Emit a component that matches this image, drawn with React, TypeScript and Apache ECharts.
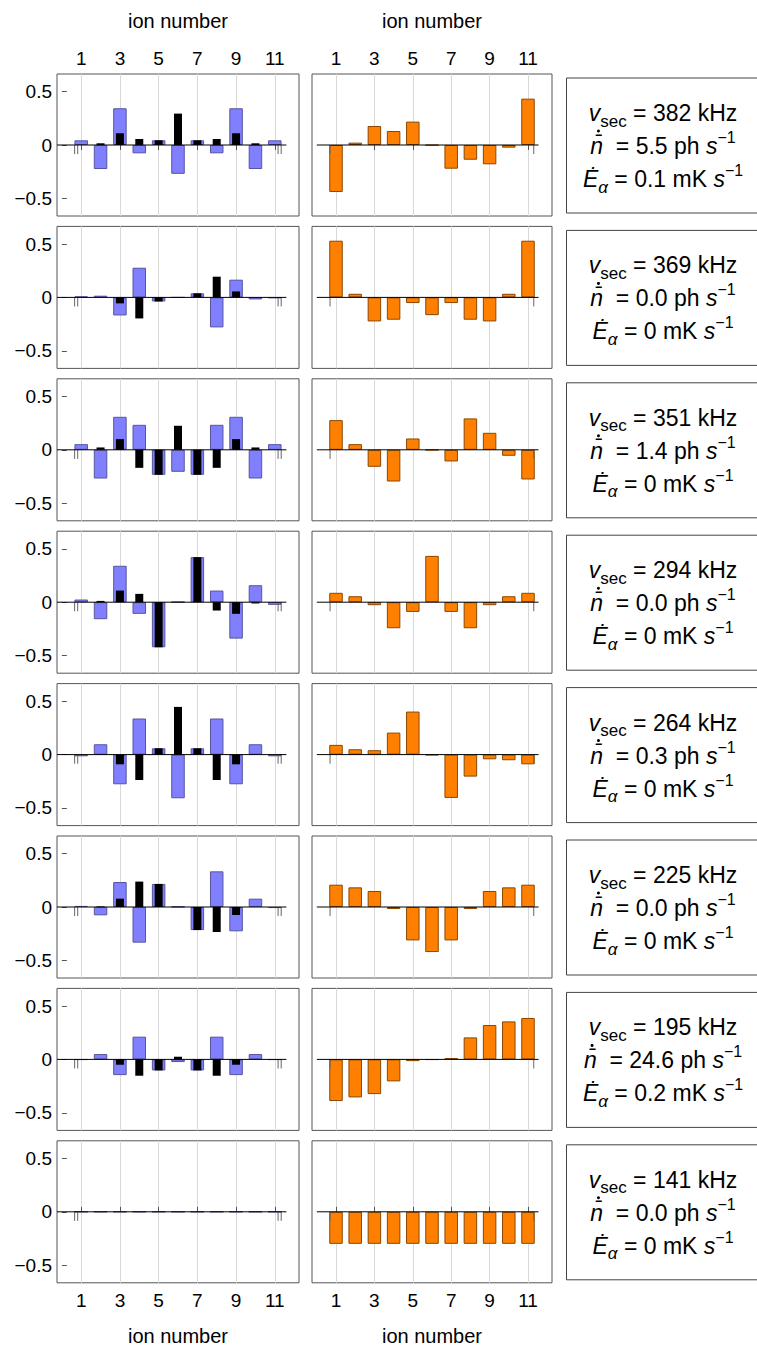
import React, { useEffect, useRef } from 'react';
import * as echarts from 'echarts';

// ---------- data ----------
const IONS = [1, 2, 3, 4, 5, 6, 7, 8, 9, 10, 11];
const ION_TICKS = [1, 3, 5, 7, 9, 11];
const Y_TICKS = [-0.5, 0, 0.5];

const FREQ_KHZ = ['382', '369', '351', '294', '264', '225', '195', '141'];
const NBAR_DOT = ['5.5', '0.0', '1.4', '0.0', '0.3', '0.0', '24.6', '0.0'];
const E_DOT = ['0.1', '0', '0', '0', '0', '0', '0.2', '0'];

// left panels: wide blue bars
const BLUE_382 = [0.044, -0.225, 0.344, -0.078, 0.044, -0.27, 0.044, -0.078, 0.344, -0.225, 0.044];
const BLUE_369 = [0.01, 0.016, -0.169, 0.278, -0.038, 0, 0.038, -0.281, 0.166, -0.019, -0.006];
const BLUE_351 = [0.053, -0.269, 0.309, 0.234, -0.234, -0.206, -0.234, 0.234, 0.309, -0.269, 0.053];
const BLUE_294 = [0.025, -0.159, 0.341, -0.109, -0.422, 0.003, 0.422, 0.109, -0.341, 0.159, -0.025];
const BLUE_264 = [-0.016, 0.097, -0.278, 0.338, 0.059, -0.409, 0.059, 0.338, -0.278, 0.097, -0.016];
const BLUE_225 = [0.01, -0.078, 0.234, -0.334, 0.216, 0.003, -0.216, 0.334, -0.228, 0.078, -0.01];
const BLUE_195 = [-0.003, 0.05, -0.147, 0.213, -0.103, -0.025, -0.103, 0.213, -0.147, 0.05, -0.003];
const BLUE_141 = [0, 0, 0, 0, 0, 0, 0, 0, 0, 0, 0];

// left panels: narrow black bars
const BLACK_382 = [0, 0.016, 0.11, 0.056, 0.044, 0.294, 0.044, 0.056, 0.11, 0.016, 0];
const BLACK_369 = [0, 0, -0.056, -0.197, -0.038, 0, 0.038, 0.194, 0.056, 0, 0];
const BLACK_351 = [0, 0.022, 0.1, -0.169, -0.234, 0.225, -0.234, -0.169, 0.1, 0.022, 0];
const BLACK_294 = [0, 0.012, 0.109, 0.078, -0.422, 0, 0.422, -0.078, -0.109, -0.012, 0];
const BLACK_264 = [0, 0, -0.091, -0.238, 0.059, 0.447, 0.059, -0.238, -0.091, 0, 0];
const BLACK_225 = [0, 0.006, 0.078, 0.238, 0.216, 0, -0.216, -0.234, -0.075, 0, 0];
const BLACK_195 = [0, 0, -0.05, -0.153, -0.103, 0.025, -0.103, -0.153, -0.05, 0, 0];
const BLACK_141 = [0, 0, 0, 0, 0, 0, 0, 0, 0, 0, 0];

// right panels: orange bars
const ORANGE_382 = [-0.44, 0.022, 0.178, 0.131, 0.219, -0.003, -0.222, -0.138, -0.181, -0.025, 0.434];
const ORANGE_369 = [0.531, 0.034, -0.225, -0.209, -0.053, -0.166, -0.053, -0.209, -0.225, 0.034, 0.531];
const ORANGE_351 = [0.278, 0.053, -0.159, -0.297, 0.106, -0.003, -0.109, 0.294, 0.159, -0.056, -0.278];
const ORANGE_294 = [0.088, 0.056, -0.028, -0.244, -0.091, 0.434, -0.091, -0.244, -0.028, 0.056, 0.088];
const ORANGE_264 = [0.091, 0.05, 0.041, 0.206, 0.403, -0.006, -0.406, -0.206, -0.044, -0.053, -0.091];
const ORANGE_225 = [0.209, 0.184, 0.15, -0.019, -0.313, -0.422, -0.313, -0.019, 0.15, 0.184, 0.209];
const ORANGE_195 = [-0.39, -0.356, -0.325, -0.206, -0.016, -0.003, 0.013, 0.206, 0.322, 0.356, 0.388];
const ORANGE_141 = [-0.3, -0.3, -0.3, -0.3, -0.3, -0.3, -0.3, -0.3, -0.3, -0.3, -0.3];

const BLUE = [BLUE_382, BLUE_369, BLUE_351, BLUE_294, BLUE_264, BLUE_225, BLUE_195, BLUE_141];
const BLACK = [BLACK_382, BLACK_369, BLACK_351, BLACK_294, BLACK_264, BLACK_225, BLACK_195, BLACK_141];
const ORANGE = [ORANGE_382, ORANGE_369, ORANGE_351, ORANGE_294, ORANGE_264, ORANGE_225, ORANGE_195, ORANGE_141];

// axis-line extents and small stubs under the zero line (in ion units)
const AXIS_LINE_LEFT = [-0.25, 11.6];
const AXIS_LINE_RIGHT = [0, 11.55];
const STUBS_LEFT = [0.66, 0.82, 11.17, 11.33];
const STUBS_RIGHT = [0.69, 11.3];
const STUB_DEPTH = -0.085;

// ---------- styling / layout ----------
const FONT = '"Liberation Sans", Arial, Helvetica, sans-serif';
const FRAME = '#555555';
const GRID_COLOR = '#d9d9d9';
const BLUE_FILL = '#8080ff';
const BLUE_EDGE = '#55559e';
const ORANGE_FILL = '#ff8000';
const ORANGE_EDGE = '#8a4700';

const ROW0_ZERO = 145;
const ROW_PITCH = 152.4;
const HALF_H = 71;
const LEFT_X = 57;
const LEFT_W = 242;
const RIGHT_X = 312;
const RIGHT_W = 240;
const X_MIN = -0.25;
const X_MAX = 12.25;
const Y_LIM = 0.665;

const BOX_X = 566.5;
const TEXT_CX = 663;
const MAIN_PX = 23;
const SUP_PX = 16;

const fmtY = (v: number) => (v < 0 ? '\u2212' + String(Math.abs(v)) : String(v));

let measureCtx: CanvasRenderingContext2D | null = null;
const measure = (text: string, font: string) => {
  if (!measureCtx) measureCtx = document.createElement('canvas').getContext('2d');
  if (!measureCtx) return 0;
  measureCtx.font = font;
  return measureCtx.measureText(text).width;
};

const renderStub = (_params: any, api: any) => {
  const x = api.value(0);
  const d = api.value(1);
  const a = api.coord([x, 0]);
  const b = api.coord([x, d]);
  return {
    type: 'line',
    shape: { x1: a[0], y1: a[1], x2: b[0], y2: b[1] },
    style: { stroke: '#666666', lineWidth: 1 },
  };
};

function buildOption() {
  const grid: any[] = [];
  const xAxis: any[] = [];
  const yAxis: any[] = [];
  const series: any[] = [];
  const graphic: any[] = [];

  const rich = {
    r: { fontSize: MAIN_PX, lineHeight: 33, fontFamily: FONT, fill: '#000' },
    i: { fontSize: MAIN_PX, lineHeight: 33, fontFamily: FONT, fontStyle: 'italic', fill: '#000' },
    sub: { fontSize: 17, lineHeight: 21, fontFamily: FONT, verticalAlign: 'bottom', fill: '#000' },
    subi: { fontSize: 17, lineHeight: 21, fontFamily: FONT, fontStyle: 'italic', verticalAlign: 'bottom', fill: '#000' },
    sup: { fontSize: SUP_PX, lineHeight: 21, fontFamily: FONT, verticalAlign: 'top', fill: '#000' },
  };
  const fMain = `normal normal ${MAIN_PX}px ${FONT}`;
  const fItal = `italic normal ${MAIN_PX}px ${FONT}`;
  const fSup = `normal normal ${SUP_PX}px ${FONT}`;

  for (let k = 0; k < 8; k++) {
    const zero = ROW0_ZERO + k * ROW_PITCH;
    const top = zero - HALF_H;
    const first = k === 0;
    const last = k === 7;
    const showX = first || last;

    const gL = grid.length;
    grid.push({ left: LEFT_X, top, width: LEFT_W, height: 2 * HALF_H, show: true, borderColor: FRAME, borderWidth: 1, backgroundColor: 'rgba(0,0,0,0)', outerBoundsMode: 'none' });
    const gR = grid.length;
    grid.push({ left: RIGHT_X, top, width: RIGHT_W, height: 2 * HALF_H, show: true, borderColor: FRAME, borderWidth: 1, backgroundColor: 'rgba(0,0,0,0)', outerBoundsMode: 'none' });

    const makeX = (gi: number, visible: boolean) => ({
      type: 'value',
      gridIndex: gi,
      min: X_MIN,
      max: X_MAX,
      position: last ? 'bottom' : 'top',
      axisLine: { show: false },
      axisTick: { show: visible && showX, inside: true, length: 5, customValues: ION_TICKS, lineStyle: { color: FRAME } },
      axisLabel: { show: visible && showX, customValues: ION_TICKS, fontSize: 19, fontFamily: FONT, color: '#000', margin: last ? 8 : 6 },
      splitLine: { show: visible, lineStyle: { color: GRID_COLOR, width: 1 } },
      name: visible && showX ? 'ion number' : '',
      nameLocation: 'middle',
      nameGap: 43,
      nameTextStyle: { fontSize: 20, fontFamily: FONT, color: '#000' },
    });
    const xiA = xAxis.length;
    xAxis.push(makeX(gL, true));
    const xiB = xAxis.length;
    xAxis.push({ ...makeX(gL, false), show: false });
    const xiR = xAxis.length;
    xAxis.push(makeX(gR, true));

    const makeY = (gi: number, visible: boolean) => ({
      type: 'value',
      gridIndex: gi,
      min: -Y_LIM,
      max: Y_LIM,
      axisLine: { show: false },
      splitLine: { show: false },
      axisTick: { show: visible, inside: true, length: 5, customValues: Y_TICKS, lineStyle: { color: FRAME } },
      axisLabel: { show: visible, customValues: Y_TICKS, formatter: fmtY, fontSize: 19, fontFamily: FONT, color: '#000', margin: 5 },
    });
    const yiL = yAxis.length;
    yAxis.push(makeY(gL, true));
    const yiR = yAxis.length;
    yAxis.push(makeY(gR, false));

    series.push({
      type: 'bar', xAxisIndex: xiA, yAxisIndex: yiL, z: 2, silent: true,
      data: BLUE[k].map((v, i) => [IONS[i], v]),
      barWidth: 13.5,
      itemStyle: { color: BLUE_FILL, borderColor: BLUE_EDGE, borderWidth: 1 },
    });
    series.push({
      type: 'bar', xAxisIndex: xiB, yAxisIndex: yiL, z: 3, silent: true,
      data: BLACK[k].map((v, i) => [IONS[i], v]),
      barWidth: 8,
      itemStyle: { color: '#000000' },
    });
    series.push({
      type: 'line', xAxisIndex: xiA, yAxisIndex: yiL, z: 4, silent: true,
      data: AXIS_LINE_LEFT.map((x) => [x, 0]),
      symbol: 'none', lineStyle: { color: '#000', width: 1 },
    });
    series.push({
      type: 'custom', coordinateSystem: 'cartesian2d', xAxisIndex: xiA, yAxisIndex: yiL, z: 4, silent: true,
      data: STUBS_LEFT.map((x) => [x, STUB_DEPTH]),
      renderItem: renderStub,
    });

    series.push({
      type: 'bar', xAxisIndex: xiR, yAxisIndex: yiR, z: 2, silent: true,
      data: ORANGE[k].map((v, i) => [IONS[i], v]),
      barWidth: 13.5,
      itemStyle: { color: ORANGE_FILL, borderColor: ORANGE_EDGE, borderWidth: 1 },
    });
    series.push({
      type: 'line', xAxisIndex: xiR, yAxisIndex: yiR, z: 4, silent: true,
      data: AXIS_LINE_RIGHT.map((x) => [x, 0]),
      symbol: 'none', lineStyle: { color: '#000', width: 1 },
    });
    series.push({
      type: 'custom', coordinateSystem: 'cartesian2d', xAxisIndex: xiR, yAxisIndex: yiR, z: 4, silent: true,
      data: STUBS_RIGHT.map((x) => [x, STUB_DEPTH]),
      renderItem: renderStub,
    });

    // parameter box
    graphic.push({
      type: 'rect', z: 10, silent: true,
      shape: { x: BOX_X, y: zero - 67, width: 220, height: 135 },
      style: { fill: '#ffffff', stroke: '#444444', lineWidth: 1 },
    });
    const nTok = 'n\u0304';
    const midTok = `  = ${NBAR_DOT[k]} ph `;
    const text =
      `{i|v}{sub|sec}{r| = ${FREQ_KHZ[k]} kHz}\n` +
      `{i|${nTok}}{r|${midTok}}{i|s}{sup|\u22121}\n` +
      `{i|\u0116}{subi|\u03b1}{r| = ${E_DOT[k]} mK }{i|s}{sup|\u22121}`;
    graphic.push({
      type: 'text', z: 11, silent: true,
      x: TEXT_CX, y: zero + 1,
      style: { text, rich, align: 'center', verticalAlign: 'middle', fontFamily: FONT, fontSize: MAIN_PX, fill: '#000' },
    });
    // time-derivative dot above the barred n
    const w2 = measure(nTok, fItal) + measure(midTok, fMain) + measure('s', fItal) + measure('\u22121', fSup);
    const nCenter = TEXT_CX - w2 / 2 + measure('n', fItal) / 2 + 1.8;
    graphic.push({
      type: 'circle', z: 12, silent: true,
      shape: { cx: nCenter, cy: zero - 14, r: 1.5 },
      style: { fill: '#000' },
    });
  }

  return {
    animation: false,
    backgroundColor: '#ffffff',
    textStyle: { fontFamily: FONT },
    grid,
    xAxis,
    yAxis,
    series,
    graphic,
  };
}

export default function App() {
  const ref = useRef<HTMLDivElement>(null);
  useEffect(() => {
    document.body.style.margin = '0';
    const chart = echarts.init(ref.current as HTMLDivElement, null, { renderer: 'svg', width: 757, height: 1347 });
    chart.setOption(buildOption() as any);
    return () => chart.dispose();
  }, []);
  return <div ref={ref} style={{ width: 757, height: 1347 }} />;
}
